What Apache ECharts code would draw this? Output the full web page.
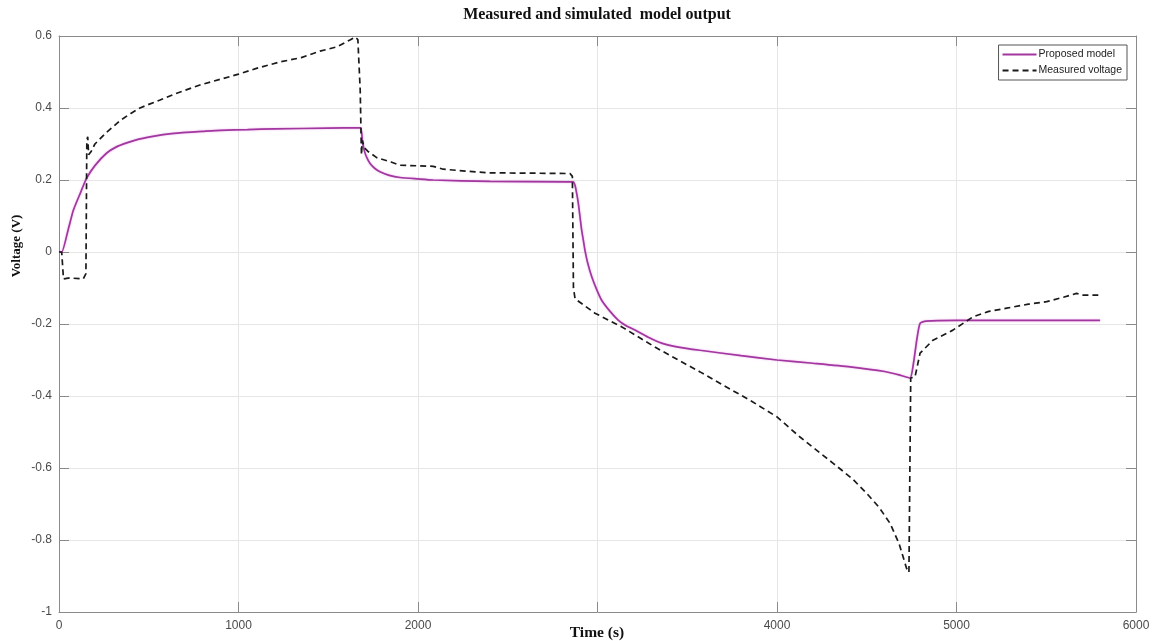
<!DOCTYPE html>
<html>
<head>
<meta charset="utf-8">
<title>Measured and simulated model output</title>
<script src="https://cdn.jsdelivr.net/npm/echarts@6/dist/echarts.min.js"></script>
<style>
  html, body { margin: 0; padding: 0; background: #fff; }
  #chart { width: 1157px; height: 641px; }
</style>
</head>
<body>
<div id="chart"></div>
<script>
// Time axis (s) and voltage axis (V) ticks
const xTicks = [0, 1000, 2000, 3000, 4000, 5000, 6000];
const yTicks = [-1, -0.8, -0.6, -0.4, -0.2, 0, 0.2, 0.4, 0.6];

// Proposed model output: [time (s), voltage (V)]
const modelTime = [0, 15, 50, 80, 120, 154, 200, 266, 320, 377, 440, 507, 580, 674, 800, 900, 1050, 1200, 1500, 1677,
  1690, 1700, 1715, 1733, 1760, 1788, 1840, 1900, 2000, 2085, 2400, 2864,
  2875, 2885, 2893, 2902, 2912, 2922, 2930, 2945, 2968, 2995, 3023, 3070, 3115, 3160, 3209, 3280, 3357, 3450, 3571, 3800, 4000, 4200, 4407, 4600, 4685, 4741,
  4760, 4780, 4797, 4830, 5000, 5400, 5800];
const modelVolt = [0, 0, 0.06, 0.116, 0.165, 0.205, 0.24, 0.275, 0.292, 0.303, 0.313, 0.32, 0.326, 0.331, 0.335, 0.338, 0.340, 0.342, 0.344, 0.345,
  0.31, 0.283, 0.262, 0.246, 0.232, 0.223, 0.213, 0.207, 0.203, 0.2, 0.196, 0.195,
  0.185, 0.16, 0.136, 0.10, 0.06, 0.03, 0.005, -0.03, -0.069, -0.104, -0.134, -0.165, -0.189, -0.205, -0.217, -0.236, -0.253, -0.264, -0.273, -0.288, -0.30, -0.309, -0.319, -0.332, -0.342, -0.350,
  -0.31, -0.24, -0.198, -0.192, -0.19, -0.19, -0.19];

// Measured voltage: [time (s), voltage (V)]
const measTime = [0, 15, 25, 60, 135, 150, 155, 160, 165, 180, 200, 260, 340, 400, 451, 500, 563, 650, 785, 900, 1000, 1100,
  1231, 1350, 1454, 1550, 1621, 1650, 1665, 1678, 1685, 1690, 1700, 1720, 1770, 1850, 1900, 2085, 2140, 2383, 2847,
  2860, 2866, 2875, 2884, 2986, 3135, 3320, 3450, 3571, 3700, 3850, 4000, 4128, 4313, 4420, 4499, 4570, 4630, 4680,
  4722, 4735, 4745, 4769, 4797, 4869, 4980, 5092, 5180, 5280, 5400, 5502, 5600, 5669, 5700, 5790];
const measVolt = [0, 0, -0.075, -0.072, -0.075, -0.06, 0.31, 0.32, 0.27, 0.28, 0.3, 0.33, 0.365, 0.385, 0.40, 0.41, 0.422, 0.44, 0.464, 0.48, 0.494, 0.51,
  0.528, 0.54, 0.558, 0.57, 0.589, 0.597, 0.59, 0.45, 0.27, 0.31, 0.29, 0.28, 0.262, 0.25, 0.241, 0.238, 0.23, 0.22, 0.218,
  0.21, -0.10, -0.13, -0.125, -0.17, -0.208, -0.264, -0.30, -0.333, -0.37, -0.412, -0.458, -0.514, -0.587, -0.63, -0.67, -0.71, -0.754, -0.81,
  -0.879, -0.89, -0.35, -0.347, -0.281, -0.245, -0.217, -0.18, -0.165, -0.156, -0.145, -0.138, -0.125, -0.115, -0.12, -0.12];

const pair = (xs, ys) => xs.map((x, i) => [x, ys[i]]);

const chart = echarts.init(document.getElementById('chart'), null, { renderer: 'canvas' });

const axisGray = '#8a8a8a';
const tickLabel = { color: '#4a4a4a', fontSize: 12, fontFamily: 'Liberation Sans, Arial, sans-serif' };
const serifBold = { fontFamily: 'Liberation Serif, Times New Roman, serif', fontWeight: 'bold', fill: '#111' };
const boxLine = { show: true, onZero: false, lineStyle: { color: axisGray, width: 1 } };
const innerTick = { show: true, inside: true, length: 10, lineStyle: { color: axisGray } };

chart.setOption({
  animation: false,
  backgroundColor: '#ffffff',
  grid: { left: 59, right: 21, top: 36, bottom: 29, containLabel: false },
  xAxis: [
    {
      type: 'value', min: xTicks[0], max: xTicks[xTicks.length - 1], interval: 1000, position: 'bottom',
      axisLine: boxLine, axisTick: innerTick,
      axisLabel: Object.assign({ margin: 8, formatter: v => String(v) }, tickLabel),
      splitLine: { show: true, lineStyle: { color: '#e6e6e6', width: 1 } }
    },
    {
      type: 'value', min: xTicks[0], max: xTicks[xTicks.length - 1], interval: 1000, position: 'top',
      axisLine: boxLine, axisTick: innerTick,
      axisLabel: { show: false }, splitLine: { show: false }
    }
  ],
  yAxis: [
    {
      type: 'value', min: yTicks[0], max: yTicks[yTicks.length - 1], interval: 0.2, position: 'left',
      axisLine: boxLine, axisTick: innerTick,
      axisLabel: Object.assign({ margin: 7, formatter: v => String(Math.round(v * 10) / 10) }, tickLabel),
      splitLine: { show: true, lineStyle: { color: '#e6e6e6', width: 1 } }
    },
    {
      type: 'value', min: yTicks[0], max: yTicks[yTicks.length - 1], interval: 0.2, position: 'right',
      axisLine: boxLine, axisTick: innerTick,
      axisLabel: { show: false }, splitLine: { show: false }
    }
  ],
  legend: {
    orient: 'vertical', right: 30, top: 45,
    backgroundColor: '#ffffff', borderColor: '#555', borderWidth: 1,
    padding: [4, 5, 4, 3], itemGap: 5, itemWidth: 34, itemHeight: 10,
    itemStyle: { opacity: 0 },
    textStyle: { color: '#222', fontSize: 10.5, fontFamily: 'Liberation Sans, Arial, sans-serif', padding: [0, 0, 0, -3] },
    data: ['Proposed model', 'Measured voltage']
  },
  graphic: [
    { type: 'text', x: 597, y: 15,
      style: Object.assign({ text: 'Measured and simulated  model output', fontSize: 16, align: 'center', verticalAlign: 'middle' }, serifBold) },
    { type: 'text', x: 17, y: 246, rotation: Math.PI / 2,
      style: Object.assign({ text: 'Voltage (V)', fontSize: 13, align: 'center', verticalAlign: 'middle' }, serifBold) },
    // axis title sits over the middle tick label, on an opaque box
    { type: 'text', x: 597, y: 633, z: 100,
      style: Object.assign({ text: 'Time (s)', fontSize: 15.5, align: 'center', verticalAlign: 'middle',
        backgroundColor: '#ffffff', padding: [12, 8, 2, 8] }, serifBold) }
  ],
  series: [
    {
      name: 'Proposed model', type: 'line', showSymbol: false, symbol: 'none', smooth: 0.2,
      data: pair(modelTime, modelVolt),
      lineStyle: { color: '#a2379f', width: 1.7, shadowColor: 'rgba(220,120,220,0.6)', shadowBlur: 2 },
      itemStyle: { color: '#a2379f' }, z: 2
    },
    {
      name: 'Measured voltage', type: 'line', showSymbol: false, symbol: 'none',
      data: pair(measTime, measVolt),
      lineStyle: { color: '#1a1a1a', width: 1.7, type: [6, 4] },
      itemStyle: { color: '#1a1a1a' }, z: 3
    }
  ]
});
</script>
</body>
</html>
